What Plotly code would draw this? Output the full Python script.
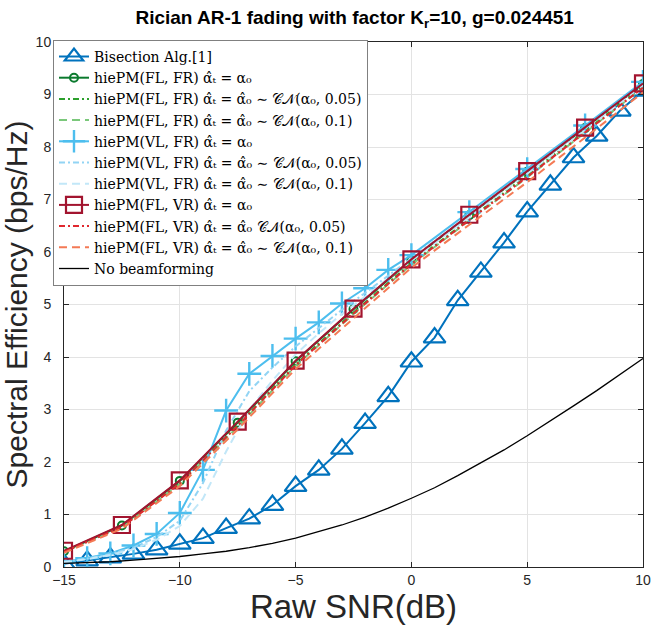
import plotly.graph_objects as go

# ---------------- data ----------------
x_bis = list(range(-15, 11))
bisection = [0.06, 0.12, 0.18, 0.25, 0.33, 0.44, 0.55, 0.74, 0.92, 1.18, 1.54, 1.85, 2.25,
             2.74, 3.25, 3.91, 4.37, 5.08, 5.62, 6.18, 6.77, 7.28, 7.80, 8.21, 8.69, 9.07]

x_fl = [-15, -12.5, -10, -7.5, -5, -2.5, 0, 2.5, 5, 7.5, 10]
flfr_exact = [0.30, 0.79, 1.64, 2.75, 3.92, 4.91, 5.85, 6.70, 7.53, 8.36, 9.20]
flfr_005 = [0.29, 0.77, 1.60, 2.70, 3.86, 4.85, 5.79, 6.63, 7.46, 8.30, 9.16]
flfr_01 = [0.28, 0.75, 1.58, 2.67, 3.83, 4.82, 5.76, 6.60, 7.42, 8.27, 9.13]

x_vl = [-15, -14, -13, -12, -11, -10, -9, -8, -7, -6, -5, -4, -3, -2, -1, 0, 2.5, 5, 7.5, 10]
vlfr_exact = [0.10, 0.17, 0.26, 0.41, 0.63, 1.03, 1.85, 2.98, 3.68, 4.02, 4.35, 4.66, 5.02,
              5.31, 5.66, 5.94, 6.76, 7.58, 8.41, 9.24]
vlfr_005 = [0.10, 0.16, 0.25, 0.37, 0.57, 0.88, 1.60, 2.60, 3.35, 3.80, 4.20, 4.55, 4.90,
            5.22, 5.55, 5.88, 6.70, 7.52, 8.36, 9.20]
vlfr_01 = [0.09, 0.15, 0.23, 0.34, 0.52, 0.78, 1.30, 2.20, 3.00, 3.55, 4.05, 4.45, 4.82,
           5.15, 5.50, 5.83, 6.66, 7.48, 8.32, 9.18]

flvr_exact = [0.31, 0.80, 1.65, 2.77, 3.93, 4.92, 5.86, 6.71, 7.54, 8.37, 9.21]
flvr_005 = [0.29, 0.76, 1.59, 2.69, 3.84, 4.83, 5.77, 6.61, 7.43, 8.28, 9.13]
flvr_01 = [0.27, 0.73, 1.54, 2.62, 3.77, 4.74, 5.70, 6.52, 7.33, 8.18, 9.04]

x_nobf = list(range(-15, 11))
no_bf = [0.07, 0.08, 0.10, 0.13, 0.16, 0.20, 0.25, 0.30, 0.37, 0.45, 0.55, 0.67, 0.80,
         0.95, 1.12, 1.31, 1.51, 1.74, 1.98, 2.23, 2.50, 2.78, 3.07, 3.36, 3.66, 3.97]

x_ticks = [-15, -10, -5, 0, 5, 10]
y_ticks = list(range(0, 11))

AH_T = "α̂ₜ"
AH_0 = "α̂₀"
A0 = "α₀"
CN = "𝒞𝒩"

names = [
    "Bisection Alg.[1]",
    f"hiePM(FL, FR) {AH_T} = {A0}",
    f"hiePM(FL, FR) {AH_T} = {AH_0} ∼ {CN}({A0}, 0.05)",
    f"hiePM(FL, FR) {AH_T} = {AH_0} ∼ {CN}({A0}, 0.1)",
    f"hiePM(VL, FR) {AH_T} = {A0}",
    f"hiePM(VL, FR) {AH_T} = {AH_0} ∼ {CN}({A0}, 0.05)",
    f"hiePM(VL, FR) {AH_T} = {AH_0} ∼ {CN}({A0}, 0.1)",
    f"hiePM(FL, VR) {AH_T} = {A0}",
    f"hiePM(FL, VR) {AH_T} = {AH_0} {CN}({A0}, 0.05)",
    f"hiePM(FL, VR) {AH_T} = {AH_0} ∼ {CN}({A0}, 0.1)",
    "No beamforming",
]

DASHDOT = "6px,3px,2px,3px"
DASH = "8px,5px"

fig = go.Figure()

def add(x, y, name, color, width=2, dash="solid", symbol=None, msize=14, mwidth=2):
    mode = "lines+markers" if symbol else "lines"
    marker = dict(symbol=symbol, size=msize, color=color,
                  line=dict(color=color, width=mwidth)) if symbol else None
    fig.add_trace(go.Scatter(x=x, y=y, name=name, mode=mode,
                             line=dict(color=color, width=width, dash=dash),
                             marker=marker))

add(x_bis, bisection, names[0], "#0072BD", symbol="triangle-up-open", msize=19, mwidth=2.2)
add(x_fl, flfr_exact, names[1], "#0B7A2E", symbol="circle-open", msize=8, mwidth=2)
add(x_fl, flfr_005, names[2], "#2CA02C", dash=DASHDOT)
add(x_fl, flfr_01, names[3], "#7BC87B", dash=DASH)
add(x_vl, vlfr_exact, names[4], "#4DBEEE", symbol="cross-thin-open", msize=17, mwidth=2.4)
add(x_vl, vlfr_005, names[5], "#92D4F4", dash=DASHDOT)
add(x_vl, vlfr_01, names[6], "#C2E7F8", dash=DASH)
add(x_fl, flvr_exact, names[7], "#A2142F", symbol="square-open", msize=16, mwidth=2.2)
add(x_fl, flvr_005, names[8], "#E0282E", dash=DASHDOT)
add(x_fl, flvr_01, names[9], "#F47A55", dash=DASH)
add(x_nobf, no_bf, names[10], "#000000", width=1.3)

axis_common = dict(
    showline=True, linecolor="#262626", linewidth=1, mirror="ticks",
    ticks="inside", ticklen=5, tickcolor="#262626",
    showgrid=True, gridcolor="#E3E3E3", gridwidth=1, zeroline=False,
    tickfont=dict(family="Liberation Sans, Arial, sans-serif", size=14, color="#262626"),
)

fig.update_layout(
    width=663, height=625,
    margin=dict(l=64, r=20, t=42, b=58),
    paper_bgcolor="white", plot_bgcolor="white",
    title=dict(text="<b>Rician AR-1 fading with factor K<sub>r</sub>=10, g=0.024451</b>",
               x=0.535, xanchor="center", y=0.972, yanchor="middle",
               font=dict(family="Liberation Sans, Arial, sans-serif", size=19, color="#000000")),
    xaxis=dict(range=[-15, 10], tickvals=x_ticks,
               title=dict(text="Raw SNR(dB)", standoff=3,
                          font=dict(family="Liberation Sans, Arial, sans-serif", size=33, color="#262626")),
               **axis_common),
    yaxis=dict(range=[0, 10], tickvals=y_ticks, ticklabelstandoff=9,
               title=dict(text="Spectral Efficiency (bps/Hz)", standoff=0,
                          font=dict(family="Liberation Sans, Arial, sans-serif", size=30, color="#262626")),
               **axis_common),
    legend=dict(x=-0.019, y=1.004, xanchor="left", yanchor="top",
                bgcolor="white", bordercolor="#808080", borderwidth=1,
                font=dict(family="DejaVu Serif, serif", size=14, color="#000000"),
                tracegroupgap=0, itemwidth=30),
    showlegend=True,
)

fig.write_html("out.html")
